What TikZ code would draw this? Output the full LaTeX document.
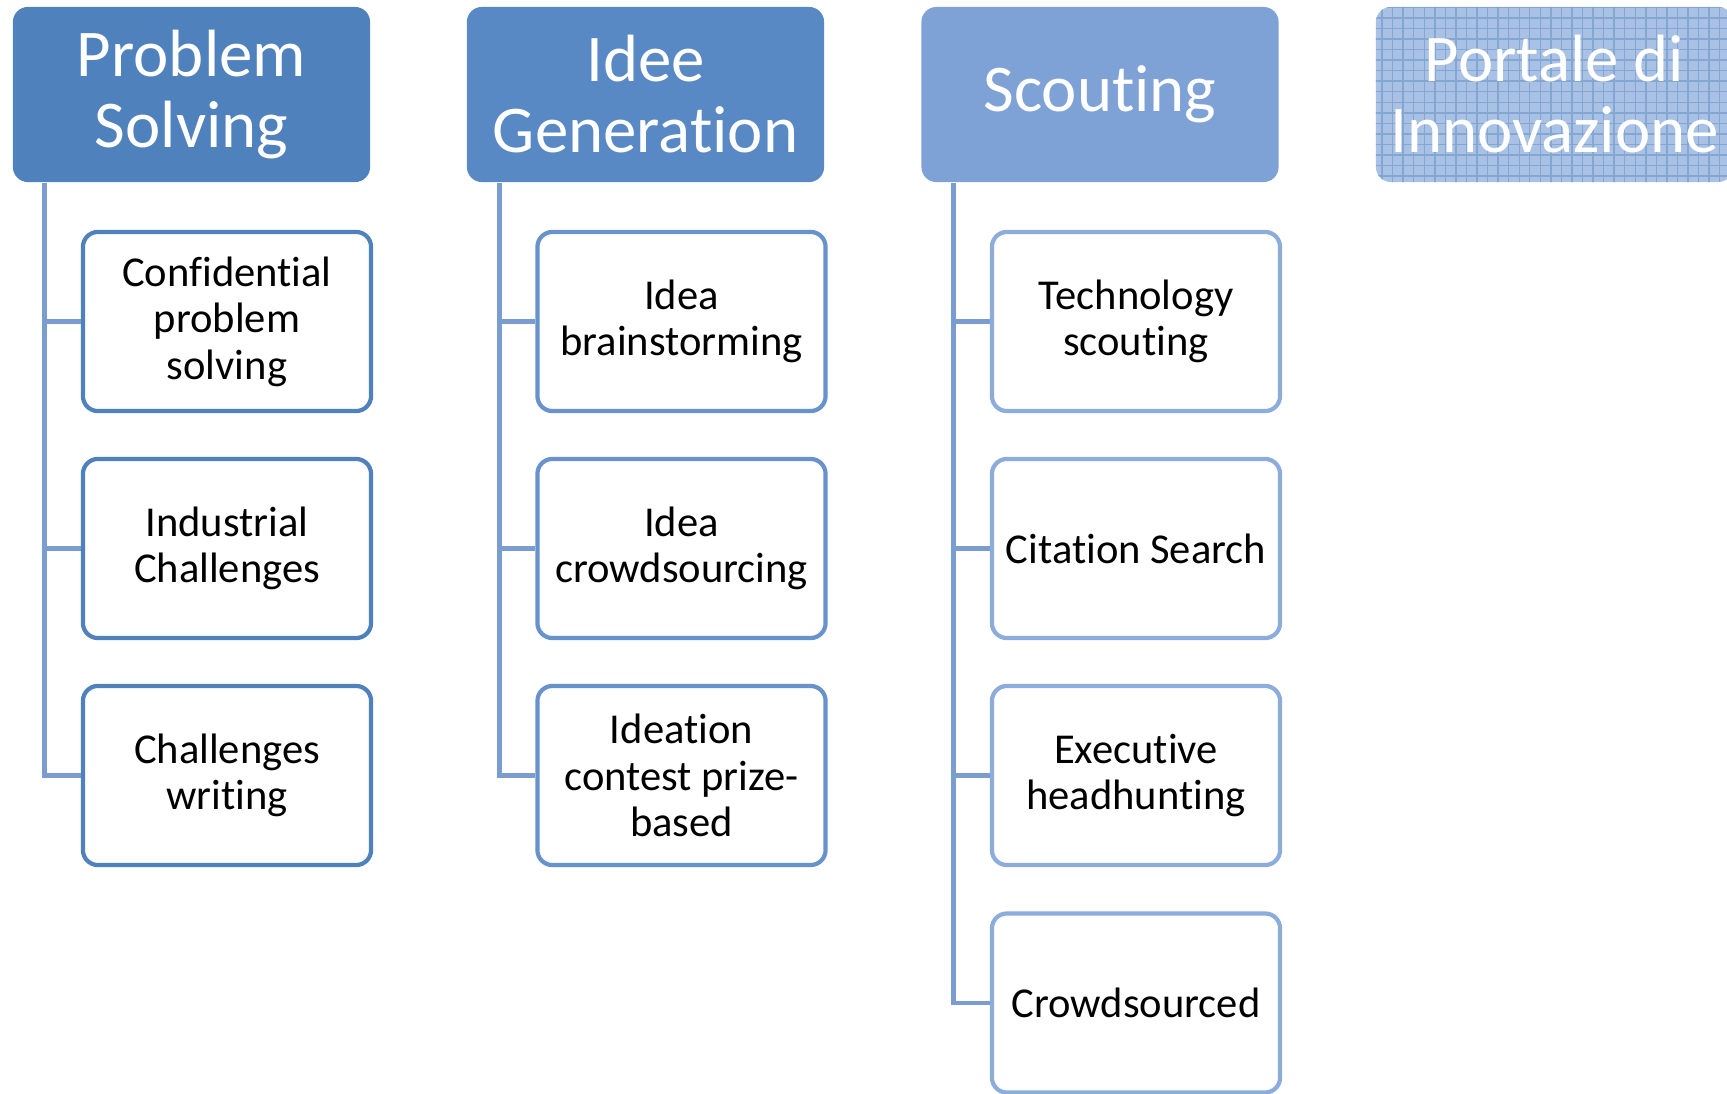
\documentclass[tikz,border=0pt]{standalone}
\usepackage{fontspec}
\setmainfont[Ligatures=NoCommon]{Carlito}
\usepackage{tikz}
\usetikzlibrary{patterns}
\definecolor{hblueA}{RGB}{79,129,189}
\definecolor{hblueB}{RGB}{88,137,196}
\definecolor{hblueC}{RGB}{126,162,214}
\definecolor{hblueD}{RGB}{168,193,228}
\definecolor{bblueA}{RGB}{79,129,189}
\definecolor{bblueB}{RGB}{104,146,204}
\definecolor{bblueC}{RGB}{140,172,220}
\definecolor{lblue}{RGB}{122,156,206}

\begin{document}
\begin{tikzpicture}[x=0.01cm,y=-0.01cm]
\tikzstyle{header}=[rectangle,rounded corners=0.15cm,fill=hblueA,text=white,minimum width=3.57cm,minimum height=1.75cm,align=center,inner sep=0pt,font=\fontsize{19}{20.2}\selectfont]
\tikzstyle{item}=[rectangle,rounded corners=0.15cm,draw=bblueA,line width=1.2pt,fill=white,minimum width=2.88cm,minimum height=1.79cm,align=center,inner sep=0pt,font=\fontsize{12.1}{13.2}\selectfont]
\tikzstyle{branch}=[draw=lblue,line width=1.4pt]

\path[use as bounding box] (0,0) rectangle (1727,1094);
\clip (0,0) rectangle (1727,1094);

% headers
\node [header] (ps) at (191.5,94.5) {Problem\\Solving};
\node [header, fill=hblueB] (ig) at (645.5,94.5) {Idee\\Generation};
\node [header, fill=hblueC] (sc) at (1100,94.5) {Scouting};
\node [header, fill=hblueD, postaction={pattern=grid, pattern color=hblueA!70}] (pi) at (1554.5,94.5) {Portale di\\Innovazione};

% problem solving
\node [item] (ps1) at (227,321.5) {Confidential\\problem\\solving};
\node [item] (ps2) at (227,548.5) {Industrial\\Challenges};
\node [item] (ps3) at (227,775.5) {Challenges\\writing};

% idee generation
\node [item, draw=bblueB] (ig1) at (681.5,321.5) {Idea\\brainstorming};
\node [item, draw=bblueB] (ig2) at (681.5,548.5) {Idea\\crowdsourcing};
\node [item, draw=bblueB] (ig3) at (681.5,775.5) {Ideation\\contest prize-\\based};

% scouting
\node [item, draw=bblueC] (sc1) at (1136,321.5) {Technology\\scouting};
\node [item, draw=bblueC] (sc2) at (1136,548.5) {Citation Search};
\node [item, draw=bblueC] (sc3) at (1136,775.5) {Executive\\headhunting};
\node [item, draw=bblueC] (sc4) at (1136,1003) {Crowdsourced};

\draw[branch] ([xshift=0.32cm]ps.south west) |- (ps1.west);
\draw[branch] ([xshift=0.32cm]ps.south west) |- (ps2.west);
\draw[branch] ([xshift=0.32cm]ps.south west) |- (ps3.west);

\draw[branch] ([xshift=0.33cm]ig.south west) |- (ig1.west);
\draw[branch] ([xshift=0.33cm]ig.south west) |- (ig2.west);
\draw[branch] ([xshift=0.33cm]ig.south west) |- (ig3.west);

\draw[branch] ([xshift=0.33cm]sc.south west) |- (sc1.west);
\draw[branch] ([xshift=0.33cm]sc.south west) |- (sc2.west);
\draw[branch] ([xshift=0.33cm]sc.south west) |- (sc3.west);
\draw[branch] ([xshift=0.33cm]sc.south west) |- (sc4.west);

\end{tikzpicture}
\end{document}
